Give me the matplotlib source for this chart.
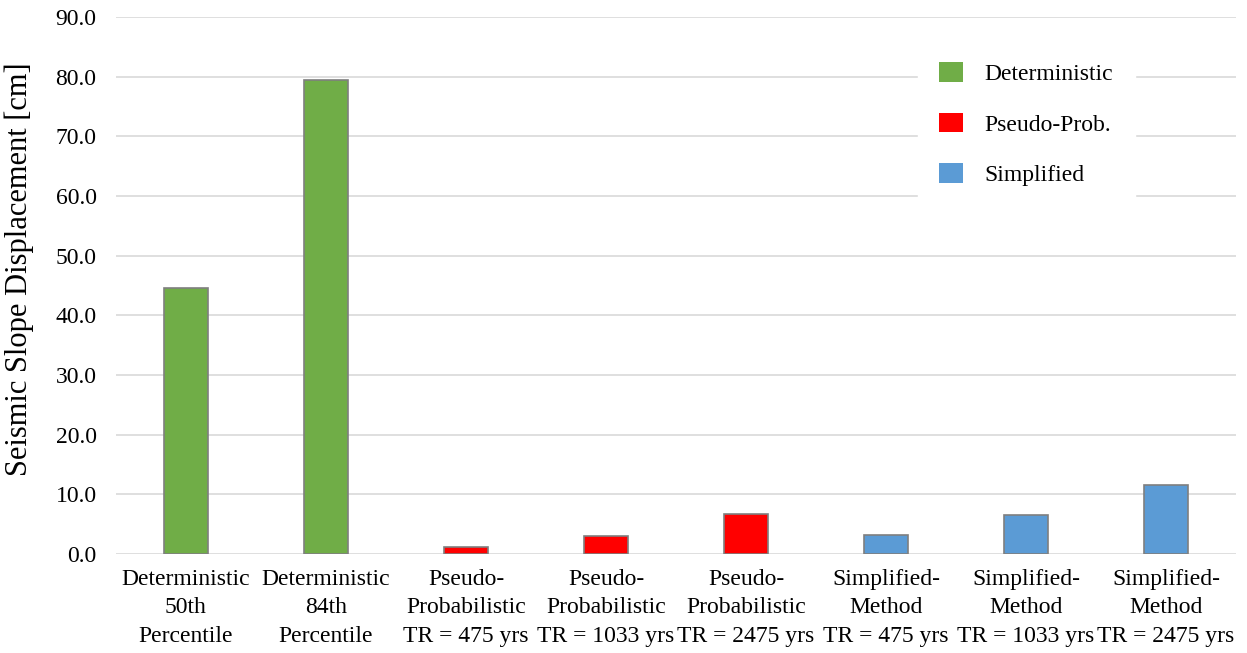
import matplotlib
matplotlib.use("Agg")
import matplotlib.pyplot as plt
from matplotlib.patches import Patch

categories = [
    "Deterministic\n50th\nPercentile",
    "Deterministic\n84th\nPercentile",
    "Pseudo-\nProbabilistic\nTR = 475 yrs",
    "Pseudo-\nProbabilistic\nTR = 1033 yrs",
    "Pseudo-\nProbabilistic\nTR = 2475 yrs",
    "Simplified-\nMethod\nTR = 475 yrs",
    "Simplified-\nMethod\nTR = 1033 yrs",
    "Simplified-\nMethod\nTR = 2475 yrs",
]
values = [44.5, 79.5, 1.2, 3.1, 6.7, 3.2, 6.6, 11.6]
groups = ["Deterministic", "Deterministic", "Pseudo-Prob.", "Pseudo-Prob.", "Pseudo-Prob.",
          "Simplified", "Simplified", "Simplified"]
group_names = ["Deterministic", "Pseudo-Prob.", "Simplified"]
group_colors = {"Deterministic": "#70ad47", "Pseudo-Prob.": "#ff0000", "Simplified": "#5b9bd5"}
yticks = [0, 10, 20, 30, 40, 50, 60, 70, 80, 90]

plt.rcParams['font.family'] = ['Liberation Serif', 'DejaVu Serif']
FS = 17

fig = plt.figure(figsize=(12.47, 6.53), dpi=100)
ax = fig.add_axes([116/1247, 99/653, 1120/1247, 537/653])

x = list(range(len(categories)))
ax.bar(x, values, width=0.31, color=[group_colors[g] for g in groups],
       edgecolor="#7f7f7f", linewidth=1.2, zorder=3)

ax.set_xlim(-0.5, len(categories) - 0.5)
ax.set_ylim(0, 90)
ax.set_yticks(yticks)
ax.set_yticklabels([f"{v:.1f}" for v in yticks], fontsize=FS)
ax.set_xticks(x)
ax.set_xticklabels(categories, fontsize=FS, linespacing=1.45)
ax.tick_params(axis='y', length=0, pad=14)
ax.tick_params(axis='x', length=0, pad=11)
ax.grid(axis='y', color="#d9d9d9", linewidth=1.2, zorder=0)
ax.set_axisbelow(True)
for s in ax.spines.values():
    s.set_visible(False)
ax.set_ylabel("Seismic Slope Displacement [cm]", fontsize=22)
ax.yaxis.set_label_coords(-0.073, 0.53)

handles = [Patch(facecolor=group_colors[g], edgecolor="none") for g in group_names]
leg = fig.legend(handles, group_names, loc="upper left",
                 bbox_to_anchor=(918/1247, 1 - 41/653),
                 frameon=True, fontsize=FS, labelspacing=1.17, handlelength=1.0,
                 handleheight=0.9, handletextpad=0.93, borderpad=0.9,
                 borderaxespad=0, fancybox=False)
leg.get_frame().set_edgecolor("white")
leg.get_frame().set_facecolor("white")
leg.get_frame().set_alpha(1.0)

fig.savefig("out.png", dpi=100)
